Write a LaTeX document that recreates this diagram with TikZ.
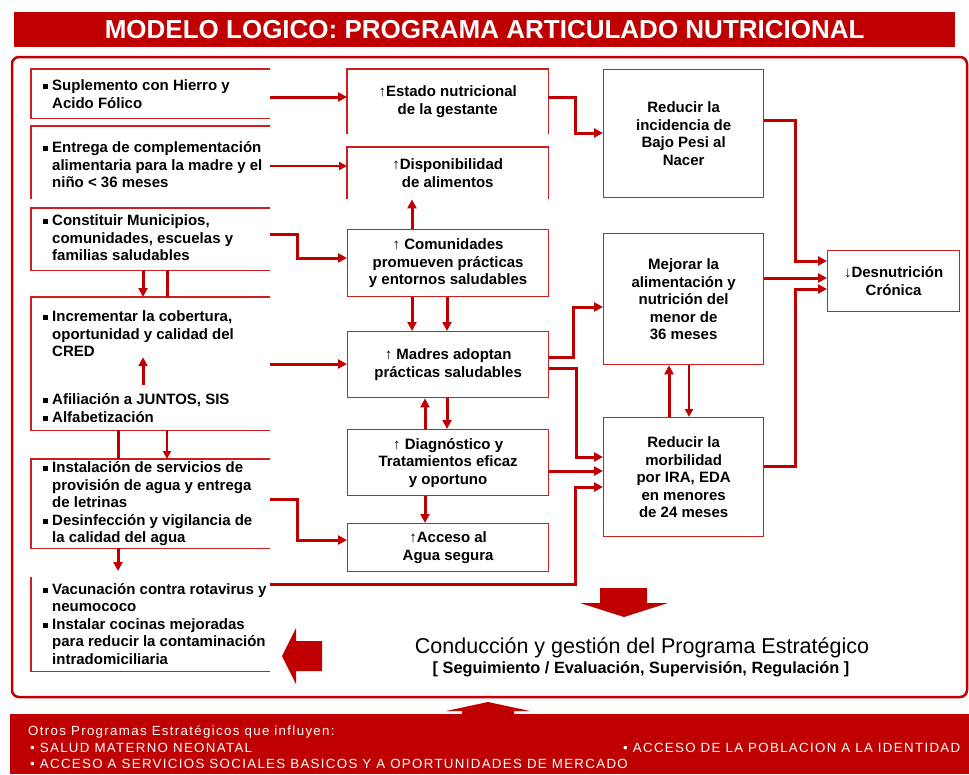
\documentclass[tikz,border=0pt]{standalone}
\usepackage{fontspec}
\setmainfont{Liberation Sans}
\newfontfamily\spacedfont{Liberation Sans}[LetterSpace=10]
\usetikzlibrary{arrows.meta}
\definecolor{dred}{RGB}{192,0,0}
\definecolor{bred}{RGB}{206,30,30}
\newcommand\bsq{\makebox[9pt][l]{\rule[1.5pt]{5pt}{5pt}}}
\newcommand\ind{\hspace*{9pt}}
\begin{document}
\begin{tikzpicture}[x=1pt,y=-1pt,
  ob/.style={inner sep=0pt, anchor=north west},
  bx/.style={draw=bred, line width=1.3pt, inner sep=0pt, anchor=north west,
             font=\bfseries\fontsize{15}{17.5}\selectfont, align=center},
  obx/.style={inner sep=0pt, anchor=north west,
             font=\bfseries\fontsize{15}{17.5}\selectfont, align=center},
  edge/.style={draw=bred, line width=1.3pt},
  ltxt/.style={font=\bfseries\fontsize{15}{17.5}\selectfont, align=left, anchor=west, inner sep=0pt},
  cthk/.style={draw=dred, line width=3pt, -{Triangle[length=9pt,width=9pt]}},
  cmed/.style={draw=dred, line width=2pt, -{Triangle[length=8pt,width=8pt]}},
  lthk/.style={draw=dred, line width=3pt},
  btxt/.style={text=white, anchor=west, inner sep=0pt, font=\spacedfont\fontsize{13.3}{15}\selectfont},
]
\useasboundingbox (0,0) rectangle (969,774);
\fill[white] (0,0) rectangle (969,774);

% title
\node[fill=dred, minimum width=941pt, minimum height=35pt, inner sep=0pt, anchor=north west,
      text=white, font=\bfseries\fontsize{26}{30}\selectfont] (title) at (14,12)
      {MODELO LOGICO: PROGRAMA ARTICULADO NUTRICIONAL};

% main frame
\draw[dred, line width=2.5pt, rounded corners=7pt] (12,57) rectangle (967,697);

% left column boxes
\node[ob, minimum width=239pt, minimum height=49pt] (b1) at (31,69) {};
\draw[edge] (b1.north east) -- (b1.north west) -- (b1.south west) -- (b1.south east);
\node[ltxt] (b1t) at (43,94) {\bsq Suplemento con Hierro y\\\ind Acido Fólico};

\node[ob, minimum width=239pt, minimum height=73pt] (b2) at (31,126) {};
\draw[edge] (b2.north east) -- (b2.north west) -- (b2.south west);
\node[ltxt] (b2t) at (43,165) {\bsq Entrega de complementación\\\ind alimentaria para la madre y el\\\ind niño < 36 meses};

\node[ob, minimum width=239pt, minimum height=62pt] (b3) at (31,208) {};
\draw[edge] (b3.north east) -- (b3.north west) -- (b3.south west) -- (b3.south east);
\node[ltxt] (b3t) at (43,238) {\bsq Constituir Municipios,\\\ind comunidades, escuelas y\\\ind familias saludables};

\node[ob, minimum width=239pt, minimum height=133pt] (b4) at (31,297) {};
\draw[edge] (b4.north east) -- (b4.north west) -- (b4.south west) -- (b4.south east);
\node[ltxt] (b4t) at (43,334) {\bsq Incrementar la cobertura,\\\ind oportunidad y calidad del\\\ind CRED};
\node[ltxt] (b4u) at (43,408) {\bsq Afiliación a JUNTOS, SIS\\\bsq Alfabetización};

\node[ob, minimum width=239pt, minimum height=89pt] (b5) at (31,459) {};
\draw[edge] (b5.north east) -- (b5.north west) -- (b5.south west) -- (b5.south east);
\node[ltxt] (b5t) at (43,504) {\bsq Instalación de servicios de\\\ind provisión de agua y entrega\\\ind de letrinas\\\bsq Desinfección y vigilancia de\\\ind la calidad del agua};

\node[ob, minimum width=239pt, minimum height=94pt] (b6) at (31,577) {};
\draw[edge] (b6.north west) -- (b6.south west) -- (b6.south east);
\node[ltxt] (b6t) at (43,624) {\bsq Vacunación contra rotavirus y\\\ind neumococo\\\bsq Instalar cocinas mejoradas\\\ind para reducir la contaminación\\\ind intradomiciliaria};

% middle column
\node[obx, minimum width=201pt, minimum height=65pt] (est) at (347,69) {\textmd{↑}Estado nutricional\\de la gestante};
\draw[edge] (est.south west) -- (est.north west) -- (est.north east) -- (est.south east);
\node[obx, minimum width=201pt, minimum height=52pt] (dis) at (347,147) {↑Disponibilidad\\de alimentos};
\draw[edge] (dis.south west) -- (dis.north west) -- (dis.north east) -- (dis.south east);
\node[bx, minimum width=201pt, minimum height=67pt] (com) at (347,229) {↑ Comunidades\\promueven prácticas\\y entornos saludables};
\node[bx, minimum width=201pt, minimum height=66pt] (mad) at (347,331) {↑ Madres adoptan\\prácticas saludables};
\node[bx, minimum width=201pt, minimum height=66pt] (dia) at (347,429) {↑ Diagnóstico y\\Tratamientos eficaz\\y oportuno};
\node[bx, minimum width=201pt, minimum height=48pt] (acc) at (347,523) {↑Acceso al\\Agua segura};

% right column
\node[bx, minimum width=160pt, minimum height=128pt] (baj) at (603,69) {Reducir la\\incidencia de\\Bajo Pesi al\\Nacer};
\node[bx, minimum width=160pt, minimum height=131pt] (mej) at (603,233) {Mejorar la\\alimentación y\\nutrición del\\menor de\\36 meses};
\node[bx, minimum width=160pt, minimum height=119pt] (mor) at (603,417) {Reducir la\\morbilidad\\por IRA, EDA\\en menores\\de 24 meses};
\node[bx, minimum width=132pt, minimum height=61pt] (des) at (827,250) {\textmd{↓}Desnutrición\\Crónica};

% left-column verticals
\draw[cthk] (b3.south -| 143,0) -- (b4.north -| 143,0);
\draw[lthk] (b3.south -| 167,0) -- (b4.north -| 167,0);
\draw[cthk] (143,385) -- (b4t.south -| 143,0);
\draw[lthk] (b4.south -| 118,0) -- (b5.north -| 118,0);
\draw[cmed] (b4.south -| 167,0) -- (b5.north -| 167,0);
\draw[cthk] (b5.south -| 118,0) -- (118,571);

% left to middle
\draw[cthk] (b1.east |- 0,97) -- (est.west |- 0,97);
\draw[cmed] (b2.east |- 0,166) -- (dis.west |- 0,166);
\draw[cthk] (b3.east |- 0,234) -| (297,258) -- (com.west |- 0,258);
\draw[cthk] (b4.east |- 0,364) -- (mad.west |- 0,364);
\draw[cthk] (b5.east |- 0,499) -| (297,540) -- (acc.west |- 0,540);
\draw[cthk] (b6.east |- 0,584) -| (575,487) -- (mor.west |- 0,487);

% middle verticals
\draw[cthk] (com.north -| 412,0) -- (dis.south -| 412,0);
\draw[cthk] (com.south -| 412,0) -- (mad.north -| 412,0);
\draw[cthk] (com.south -| 447,0) -- (mad.north -| 447,0);
\draw[cthk] (dia.north -| 425,0) -- (mad.south -| 425,0);
\draw[cthk] (mad.south -| 447,0) -- (dia.north -| 447,0);
\draw[cthk] (dia.south -| 425,0) -- (acc.north -| 425,0);

% middle to right
\draw[cthk] (est.east |- 0,97) -| (575,133) -- (baj.west |- 0,133);
\draw[cthk] (mad.east |- 0,357) -| (573,307) -- (mej.west |- 0,307);
\draw[cthk] (mad.east |- 0,368) -| (576,457) -- (mor.west |- 0,457);
\draw[cthk] (dia.east |- 0,471) -- (mor.west |- 0,471);

% right verticals
\draw[cthk] (mor.north -| 669,0) -- (mej.south -| 669,0);
\draw[cmed] (mej.south -| 689,0) -- (mor.north -| 689,0);

% to desnutricion
\draw[cthk] (baj.east |- 0,120) -| (795,261) -- (des.west |- 0,261);
\draw[cthk] (mej.east |- 0,278) -- (des.west |- 0,278);
\draw[cthk] (mor.east |- 0,466) -| (795,289) -- (des.west |- 0,289);

% block arrows
\fill[dred] (600,588) -- (647,588) -- (647,603) -- (668,603) -- (624,617) -- (580,603) -- (600,603) -- cycle;
\fill[dred] (322,641) -- (296,641) -- (296,628) -- (282,656) -- (296,684) -- (296,671) -- (322,671) -- cycle;

% conduccion
\node[font=\fontsize{21.5}{24}\selectfont, inner sep=0pt] (cond) at (642,648) {Conducción y gestión del Programa Estratégico};
\node[font=\bfseries\fontsize{16.3}{19}\selectfont, inner sep=0pt] (seg) at (641,669) {[ Seguimiento / Evaluación, Supervisión, Regulación ]};

% bottom bar
\fill[dred] (10,714) rectangle (969,774);
\fill[dred] (462,715) -- (462,711) -- (446,711) -- (488,702) -- (530,711) -- (514,711) -- (514,715) -- cycle;
\node[btxt] (o1) at (28,732) {Otros Programas Estratégicos que influyen:};
\node[btxt] (o2) at (30,748) {• SALUD MATERNO NEONATAL};
\node[btxt] (o3) at (30,764) {• ACCESO A SERVICIOS SOCIALES BASICOS Y A OPORTUNIDADES DE MERCADO};
\node[btxt] (o4) at (623,748) {• ACCESO DE LA POBLACION A LA IDENTIDAD};
\end{tikzpicture}
\end{document}
